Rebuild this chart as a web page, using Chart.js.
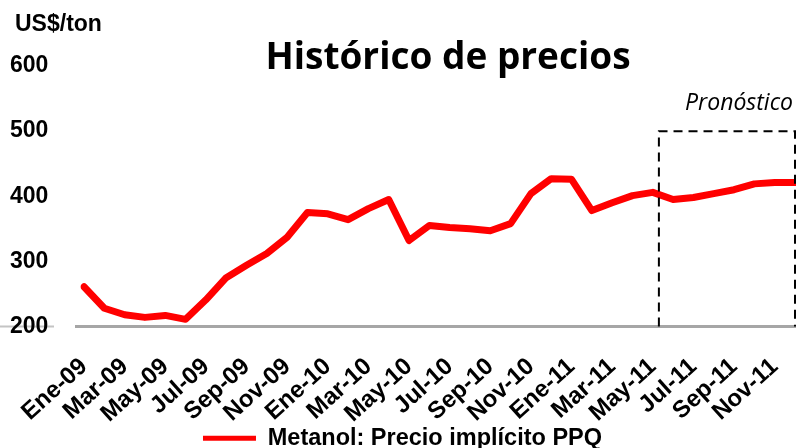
<!DOCTYPE html>
<html lang="es">
<head>
  <meta charset="UTF-8" />
  <title>Histórico de precios</title>
  <script src="https://cdn.jsdelivr.net/npm/chart.js"></script>
  <style>
    html, body { margin: 0; padding: 0; background: #fff; }
    #wrap { width: 796px; height: 448px; }
  </style>
</head>
<body>
  <div id="wrap"><canvas id="priceChart" width="796" height="448"></canvas></div>

  <script>
    const months = [
      'Ene-09','Feb-09','Mar-09','Abr-09','May-09','Jun-09','Jul-09','Ago-09','Sep-09','Oct-09','Nov-09','Dic-09',
      'Ene-10','Feb-10','Mar-10','Abr-10','May-10','Jun-10','Jul-10','Ago-10','Sep-10','Oct-10','Nov-10','Dic-10',
      'Ene-11','Feb-11','Mar-11','Abr-11','May-11','Jun-11','Jul-11','Ago-11','Sep-11','Oct-11','Nov-11','Dic-11'
    ];
    const metanolPrice = [
      261, 228, 218, 214, 217, 211, 241, 275, 294, 312, 337, 375,
      373, 364, 381, 395, 332, 355, 352, 350, 347, 358, 404, 427,
      426, 378, 390, 401, 406, 395, 398, 404, 410, 419, 421, 421
    ];
    const yTicks = [200, 300, 400, 500, 600];
    const forecastStart = 28.3;   // position on the month axis where the forecast box begins
    const forecastTop = 500;

    const overlay = {
      id: 'overlay',
      beforeDraw(chart) {
        const ctx = chart.ctx;
        const y = chart.scales.y.getPixelForValue(200);
        ctx.save();
        ctx.strokeStyle = '#c4c4c4';
        ctx.lineWidth = 2;
        ctx.beginPath();
        ctx.moveTo(0, y);
        ctx.lineTo(chart.chartArea.left - 30, y);
        ctx.stroke();
        ctx.strokeStyle = '#a6a6a6';
        ctx.lineWidth = 3;
        ctx.beginPath();
        ctx.moveTo(chart.chartArea.left - 9, y);
        ctx.lineTo(chart.width, y);
        ctx.stroke();
        ctx.restore();
      },
      afterDraw(chart) {
        const ctx = chart.ctx;
        const xs = chart.scales.x, ys = chart.scales.y;
        ctx.save();
        // forecast box
        const x0 = xs.left + (xs.right - xs.left) * forecastStart / (months.length - 1);
        const yTop = ys.getPixelForValue(forecastTop);
        const yBot = ys.getPixelForValue(200);
        ctx.strokeStyle = '#000';
        ctx.lineWidth = 2;
        ctx.setLineDash([9, 6]);
        ctx.beginPath();
        ctx.moveTo(x0, yBot);
        ctx.lineTo(x0, yTop);
        ctx.lineTo(xs.right, yTop);
        ctx.lineTo(xs.right, yBot);
        ctx.stroke();
        ctx.setLineDash([]);

        ctx.fillStyle = '#000';
        ctx.textBaseline = 'alphabetic';
        ctx.font = 'italic 23px "Open Sans", sans-serif';
        ctx.textAlign = 'right';
        ctx.fillText('Pronóstico', 793, 110);

        ctx.font = 'bold 37px "Open Sans", sans-serif';
        ctx.textAlign = 'center';
        ctx.fillText('Histórico de precios', 448, 69);

        ctx.font = 'bold 23px "Liberation Sans", Arial, sans-serif';
        ctx.textAlign = 'left';
        ctx.fillText('US$/ton', 15, 31);
        ctx.restore();
      }
    };

    new Chart(document.getElementById('priceChart'), {
      type: 'line',
      data: {
        labels: months,
        datasets: [{
          label: 'Metanol: Precio implícito PPQ',
          data: metanolPrice,
          borderColor: '#ff0000',
          backgroundColor: '#ff0000',
          borderWidth: 7,
          borderCapStyle: 'round',
          borderJoinStyle: 'round',
          pointRadius: 0,
          tension: 0,
          fill: false
        }]
      },
      options: {
        responsive: false,
        animation: false,
        layout: { padding: { top: 66, left: 10, right: 1, bottom: -12 } },
        plugins: {
          title: { display: false },
          tooltip: { enabled: false },
          legend: {
            position: 'bottom',
            labels: {
              color: '#000',
              boxWidth: 53,
              boxHeight: 5,
              padding: 0,
              font: { family: '"Liberation Sans", Arial, sans-serif', size: 23.5, weight: 'bold' },
              generateLabels: chart =>
                Chart.defaults.plugins.legend.labels.generateLabels(chart).map(l => ({ ...l, lineWidth: 0 }))
            }
          }
        },
        scales: {
          x: {
            offset: false,
            grid: { display: false },
            border: { display: false },
            afterFit: scale => { scale.paddingRight = 0; scale.height = 100; },
            ticks: {
              autoSkip: false,
              maxRotation: 42,
              minRotation: 42,
              padding: 18,
              color: '#000',
              font: { family: '"Liberation Sans", Arial, sans-serif', size: 24, weight: 'bold' },
              callback: function (val, i) { return i % 2 === 0 ? months[i] : ''; }
            }
          },
          y: {
            min: 200,
            max: 600,
            afterBuildTicks: scale => { scale.ticks = yTicks.map(v => ({ value: v })); },
            afterFit: scale => { scale.width = 74; },
            grid: { display: false },
            border: { display: false },
            ticks: {
              crossAlign: 'far',
              color: '#000',
              font: { family: '"Liberation Sans", Arial, sans-serif', size: 23, weight: 'bold' }
            }
          }
        }
      },
      plugins: [overlay]
    });
  </script>
</body>
</html>
